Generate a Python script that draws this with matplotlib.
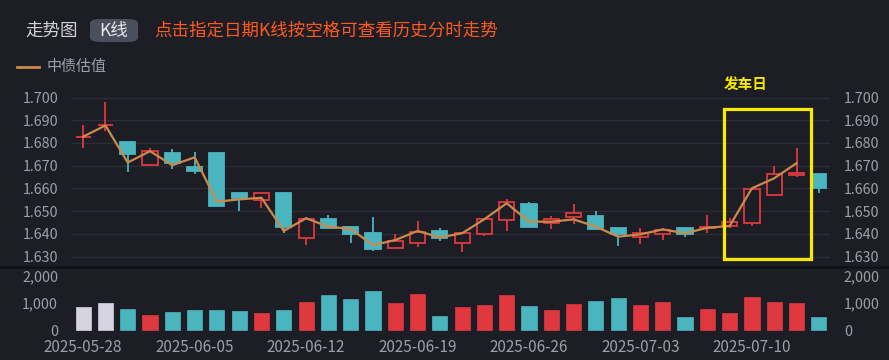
import matplotlib
matplotlib.use("Agg")
import matplotlib.pyplot as plt
from matplotlib.patches import Rectangle, FancyBboxPatch
from matplotlib.lines import Line2D
import numpy as np

plt.rcParams['font.family'] = ['Noto Sans CJK SC', 'DejaVu Sans']

##### data #####
dates = ["2025-05-28", "2025-05-29", "2025-05-30", "2025-06-03", "2025-06-04",
         "2025-06-05", "2025-06-06", "2025-06-09", "2025-06-10", "2025-06-11",
         "2025-06-12", "2025-06-13", "2025-06-16", "2025-06-17", "2025-06-18",
         "2025-06-19", "2025-06-20", "2025-06-23", "2025-06-24", "2025-06-25",
         "2025-06-26", "2025-06-27", "2025-06-30", "2025-07-01", "2025-07-02",
         "2025-07-03", "2025-07-04", "2025-07-07", "2025-07-08", "2025-07-09",
         "2025-07-10", "2025-07-11", "2025-07-14", "2025-07-15"]

opens = [1.6828, 1.6877, 1.6803, 1.6702, 1.6755, 1.6696, 1.6755, 1.6579, 1.6549, 1.6579,
         1.6381, 1.6464, 1.6429, 1.6405, 1.6338, 1.6360, 1.6414, 1.6361, 1.6401, 1.6461,
         1.6530, 1.6449, 1.6476, 1.6480, 1.6425, 1.6388, 1.6400, 1.6427, 1.6425, 1.6435,
         1.6449, 1.6571, 1.6659, 1.6663]
closes = [1.6828, 1.6877, 1.6751, 1.6764, 1.6711, 1.6677, 1.6524, 1.6557, 1.6579, 1.6429,
          1.6464, 1.6425, 1.6401, 1.6335, 1.6370, 1.6407, 1.6381, 1.6403, 1.6464, 1.6539,
          1.6429, 1.6464, 1.6493, 1.6422, 1.6400, 1.6405, 1.6417, 1.6400, 1.6432, 1.6454,
          1.6598, 1.6663, 1.6667, 1.6601]
highs = [1.6877, 1.6982, 1.6803, 1.6777, 1.6773, 1.6762, 1.6755, 1.6579, 1.6579, 1.6579,
         1.6476, 1.6483, 1.6436, 1.6476, 1.6400, 1.6457, 1.6427, 1.6403, 1.6464, 1.6552,
         1.6542, 1.6480, 1.6532, 1.6502, 1.6425, 1.6427, 1.6427, 1.6427, 1.6482, 1.6471,
         1.6598, 1.6699, 1.6777, 1.6663]
lows = [1.6777, 1.6853, 1.6674, 1.6702, 1.6685, 1.6663, 1.6524, 1.6501, 1.6513, 1.6403,
        1.6351, 1.6425, 1.6358, 1.6326, 1.6338, 1.6341, 1.6369, 1.6322, 1.6391, 1.6413,
        1.6429, 1.6422, 1.6442, 1.6422, 1.6347, 1.6354, 1.6373, 1.6388, 1.6405, 1.6425,
        1.6436, 1.6571, 1.6652, 1.6579]

# 中债估值 (no value yet for the last day)
valuation = [1.6828, 1.6877, 1.6714, 1.6764, 1.6702, 1.6737, 1.6542, 1.6552, 1.6559, 1.6413,
             1.6469, 1.6432, 1.6422, 1.6351, 1.6373, 1.6413, 1.6385, 1.6403, 1.6465, 1.6535,
             1.6454, 1.6454, 1.6464, 1.6432, 1.6388, 1.6398, 1.6420, 1.6403, 1.6427, 1.6435,
             1.6601, 1.6645, 1.6711, np.nan]

volumes = [850, 1000, 775, 575, 675, 738, 725, 713, 625, 750,
           1038, 1300, 1150, 1438, 988, 1338, 538, 850, 925, 1288,
           900, 738, 963, 1075, 1188, 925, 1025, 488, 763, 625,
           1225, 1025, 988, 500]

price_ticks = [1.630, 1.640, 1.650, 1.660, 1.670, 1.680, 1.690, 1.700]
vol_ticks = [0, 1000, 2000]
date_ticks = [0, 5, 10, 15, 20, 25, 30]

##### colours #####
bg = '#1d1e25'
grid_c = '#2b2d36'
red = '#e0383f'
cyan = '#4bb5bf'
gray_up = '#d5d4e0'
label_c = '#9d9ea7'
ma_c = '#c98a4b'

fig = plt.figure(figsize=(8.89, 3.6), dpi=100, facecolor=bg)

ax = fig.add_axes([0.081, 0.2611, 0.8526, 0.5028], facecolor=bg)
axv = fig.add_axes([0.081, 0.0806, 0.8526, 0.1778], facecolor=bg, sharex=ax)

x = np.arange(len(dates))
o = np.array(opens)
c = np.array(closes)
h = np.array(highs)
l = np.array(lows)

colors = []
for i in range(len(x)):
    if c[i] > o[i] or (c[i] == o[i] and i < 2):
        colors.append(red)
    else:
        colors.append(cyan)

# wicks
ax.vlines(x, l, h, colors=colors, linewidth=1.3, zorder=2)
# bodies: red hollow, cyan filled
bottoms = np.minimum(o, c)
heights = np.abs(c - o)
faces = [bg if col == red else cyan for col in colors]
ax.bar(x, heights, bottom=bottoms, width=0.68, color=faces, edgecolor=colors,
       linewidth=1.3, zorder=3)

ax.plot(x, valuation, color=ma_c, linewidth=1.6, zorder=4)

ax.set_xlim(-0.5, len(dates) - 0.5)
ax.set_ylim(1.6259, 1.7055)
ax.set_yticks(price_ticks)
ax.set_yticklabels(["%.3f" % t for t in price_ticks])
ax.grid(axis='y', color=grid_c, linewidth=1)
ax.set_axisbelow(True)
ax.tick_params(axis='y', left=False, right=False, labelleft=True, labelright=True,
               labelsize=10.3, labelcolor=label_c, pad=6.5)
ax.tick_params(axis='x', bottom=False, labelbottom=False)
for s in ax.spines.values():
    s.set_visible(False)

# volume bars, the two doji days are greyed
vcolors = [gray_up if i < 2 else colors[i] for i in range(len(x))]
axv.bar(x, volumes, width=0.68, color=vcolors, edgecolor=vcolors, linewidth=0.5)
axv.set_ylim(-30, 2320)
axv.set_yticks(vol_ticks)
axv.set_yticklabels(["{:,}".format(t) for t in vol_ticks])
axv.tick_params(axis='y', left=False, right=False, labelleft=True, labelright=True,
                labelsize=10.3, labelcolor=label_c, pad=6.5)
axv.set_xticks(date_ticks)
axv.set_xticklabels([dates[i] for i in date_ticks])
axv.tick_params(axis='x', bottom=False, labelsize=11, labelcolor=label_c, pad=2)
for s in axv.spines.values():
    s.set_visible(False)

# separator between price and volume panels
fig.add_artist(Line2D([0, 1], [1 - 266.5 / 360, 1 - 266.5 / 360], transform=fig.transFigure,
                      color='#111216', linewidth=2))

# highlighted box + label
ax.add_patch(Rectangle((28.75, 1.6289), 3.9, 0.066, fill=False, edgecolor='#f7ea00',
                       linewidth=2.3, clip_on=False, zorder=6))
fig.text(746 / 889, 1 - 84 / 360, "发车日", color='#f7ea00', fontsize=10.5,
         fontweight='bold', ha='center', va='center')

# header
fig.text(25 / 889, 1 - 31 / 360, "走势图", color='#d2d2d8', fontsize=12.6, va='center')
fig.add_artist(FancyBboxPatch((90 / 889, 1 - 42 / 360), 48 / 889, 23 / 360,
                              boxstyle='round,pad=0,rounding_size=0.012',
                              transform=fig.transFigure, facecolor='#4a4f5b', edgecolor='none'))
fig.text(114 / 889, 1 - 31 / 360, "K线", color='#e6e6ea', fontsize=12.6, ha='center', va='center')
fig.text(154 / 889, 1 - 31 / 360, "点击指定日期K线按空格可查看历史分时走势", color='#ff5a1e',
         fontsize=12.6, va='center')

# legend
fig.add_artist(Line2D([17 / 889, 39 / 889], [1 - 67 / 360, 1 - 67 / 360],
                      transform=fig.transFigure, color=ma_c, linewidth=2))
fig.text(46 / 889, 1 - 67 / 360, "中债估值", color=label_c, fontsize=10.8, va='center')

fig.savefig("out.png", dpi=100, facecolor=bg)
